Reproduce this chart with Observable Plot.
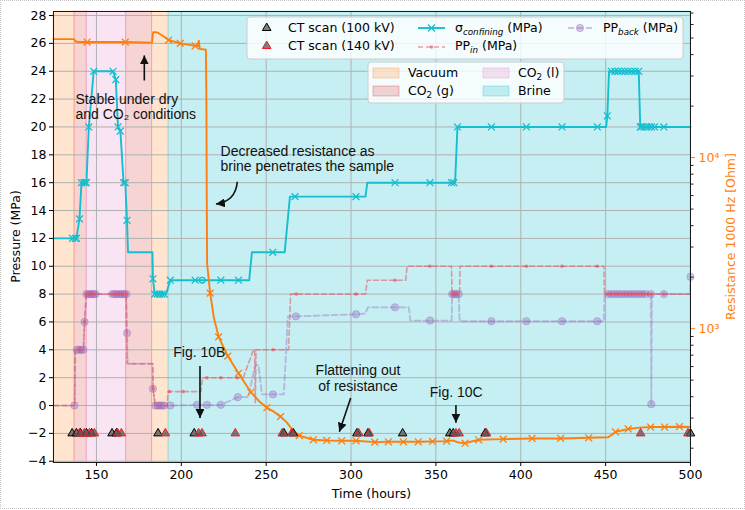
<!DOCTYPE html>
<html>
<head>
<meta charset="utf-8">
<script src="https://cdn.jsdelivr.net/npm/d3@7"></script>
<script src="https://cdn.jsdelivr.net/npm/@observablehq/plot@0.6"></script>
<style>
  html, body { margin: 0; padding: 0; background: #fff; }
  #wrap { position: relative; width: 745px; height: 510px; overflow: hidden; }
  #border { position: absolute; left: 0; top: 0; width: 743px; height: 507px; border: 1px dotted #c4c4c4; pointer-events: none; }
</style>
</head>
<body>
<div id="wrap"><div id="border"></div></div>
<script>
// ---------------- DATA ----------------
const xTicks = [150, 200, 250, 300, 350, 400, 450, 500];
const yTicks = [-4, -2, 0, 2, 4, 6, 8, 10, 12, 14, 16, 18, 20, 22, 24, 26, 28];
const resMajorTicks = [1e3, 1e4];
const resMinorTicks = [200, 300, 400, 500, 600, 700, 800, 900,
  2000, 3000, 4000, 5000, 6000, 7000, 8000, 9000,
  20000, 30000, 40000, 50000, 60000, 70000];

// background phases
const phaseStart = [124.7, 137.1, 144.3, 167.5, 182.8, 192.5];
const phaseEnd   = [137.1, 144.3, 167.5, 182.8, 192.5, 500];
const phaseName  = ["Vacuum", "CO2 (g)", "CO2 (l)", "CO2 (g)", "Vacuum", "Brine"];

// confining pressure (MPa); mark: 1 = x marker, 2 = circle marker
const confTime = [124.7, 135.9, 137.6, 138.2, 140.0, 141.2, 142.6, 143.4, 144.1, 145.5, 148.4, 159.8, 161.4, 162.7, 164.1, 166.0, 167.0, 168.0, 168.6, 183.0,
  183.3, 184.3, 185.8, 187.2, 188.6, 190.0, 191.0, 193.5, 208.2, 212.3, 223.3, 233.7, 240.0, 241.6, 253.9, 260.9, 264.0, 267.0, 302.9, 308.5,
  309.6, 325.9, 346.5, 359.2, 360.6, 361.3, 362.7, 382.7, 403.3, 424.3, 445.1, 450.3, 451.0, 452.0, 453.4, 455.4, 457.4, 459.4, 461.4, 463.4,
  465.4, 467.4, 469.5, 470.4, 471.0, 472.5, 474.0, 475.5, 477.0, 478.8, 484.3, 500.0];
const confMPa = [12, 12, 12, 12, 13.4, 16, 16, 16, 16, 20, 24, 24, 23.4, 20, 19.7, 16, 16, 13.3, 11, 11,
  9.1, 8, 8, 8, 8, 8, 8, 9, 9, 9, 9, 9, 9, 11, 11, 11, 15, 15, 15, 15,
  16, 16, 16, 16, 16, 16, 20, 20, 20, 20, 20, 20, 20.8, 24, 24, 24, 24, 24, 24, 24,
  24, 24, 24, 20, 20, 20, 20, 20, 20, 20, 20, 20];
const confMark = [0, 1, 1, 1, 1, 1, 1, 1, 1, 1, 1, 1, 1, 1, 1, 1, 1, 1, 0, 0,
  1, 1, 1, 1, 1, 1, 0, 1, 1, 2, 1, 1, 0, 0, 1, 0, 0, 1, 1, 0,
  0, 1, 1, 1, 1, 0, 1, 1, 1, 1, 1, 0, 1, 0, 1, 1, 1, 1, 1, 1,
  1, 1, 1, 1, 1, 1, 1, 1, 1, 1, 1, 0];

// inlet pore pressure (MPa)
const inTime = [124.7, 137.3, 137.6, 140.0, 142.5, 143.0, 144.0, 145.5, 147.0, 149.0, 159.0, 161.0, 163.0, 165.0, 167.5, 168.0, 183.2, 183.4, 184.5, 191.7,
  192.2, 193.0, 201.0, 211.5, 212.5, 215.1, 223.3, 232.9, 236.5, 242.5, 243.2, 243.6, 244.0, 254.1, 263.2, 264.4, 267.7, 302.9, 308.5, 309.6,
  325.9, 332.2, 333.0, 346.5, 359.2, 359.5, 361.0, 362.5, 364.0, 364.2, 382.7, 403.3, 424.3, 445.0, 449.0, 449.3, 451.0, 453.0, 455.0, 457.0,
  459.0, 461.0, 463.0, 465.0, 467.0, 469.0, 471.0, 473.0, 475.0, 477.0, 484.3, 500.0];
const inMPa = [0, 0, 4, 4, 4, 6, 8, 8, 8, 8, 8, 8, 8, 8, 8, 3, 3, 1.2, 0, 0,
  1, 1, 1, 1, 2, 2, 2, 2, 2, 4, 4, 0.2, 4, 4, 4, 8, 8, 8, 8, 9,
  9, 9, 10, 10, 10, 8, 8, 8, 8, 10, 10, 10, 10, 10, 10, 8, 8, 8, 8, 8,
  8, 8, 8, 8, 8, 8, 8, 8, 8, 8, 8, 8];
const inMark = [0, 0, 0, 1, 0, 1, 1, 1, 1, 1, 1, 1, 1, 1, 1, 0, 0, 1, 0, 0,
  0, 1, 1, 0, 0, 1, 1, 1, 0, 0, 0, 0, 0, 1, 0, 0, 1, 1, 0, 0,
  1, 0, 0, 1, 0, 1, 1, 1, 0, 0, 1, 1, 1, 1, 0, 0, 1, 1, 1, 1,
  1, 1, 1, 1, 1, 1, 1, 1, 1, 1, 1, 0];

// back pore pressure (MPa)
const backTime = [124.7, 137.0, 137.4, 138.4, 139.8, 141.1, 142.3, 143.0, 144.1, 145.2, 146.3, 147.4, 148.5, 149.4, 159.2, 160.5, 161.8, 163.0, 164.2, 165.4,
  166.6, 167.6, 168.0, 168.4, 183.0, 183.3, 184.7, 186.0, 187.3, 188.6, 190.0, 193.5, 209.3, 215.1, 223.3, 233.3, 239.5, 243.5, 245.5, 247.5,
  254.0, 260.4, 262.8, 267.5, 302.9, 308.5, 309.8, 325.9, 334.0, 335.0, 346.5, 359.3, 359.6, 360.8, 362.0, 363.4, 364.0, 382.7, 403.3, 424.3,
  445.0, 449.0, 449.3, 451.5, 453.5, 455.5, 457.5, 459.5, 461.5, 463.5, 465.5, 467.5, 469.5, 471.5, 473.5, 476.6, 476.9, 477.3, 484.3, 499.6,
  500.0];
const backMPa = [0, 0, 4, 4, 4, 4, 4, 6, 8, 8, 8, 8, 8, 8, 8, 8, 8, 8, 8, 8,
  8, 8, 5.2, 3, 3, 1.2, 0, 0, 0, 0, 0, 0, 0.05, 0.05, 0.05, 0.6, 0.6, 2.9, 2.9, 0.8,
  0.8, 0.8, 6.4, 6.4, 6.55, 6.6, 7.05, 7.05, 7.05, 6.1, 6.1, 6.1, 8, 8, 8, 8, 6.05, 6.05, 6.05, 6.05,
  6.05, 6.05, 8, 8, 8, 8, 8, 8, 8, 8, 8, 8, 8, 8, 8, 8, 0.1, 8, 8, 8,
  9.25];
const backMark = [0, 1, 0, 1, 1, 1, 1, 1, 1, 1, 1, 1, 1, 1, 1, 1, 1, 1, 1, 1,
  1, 1, 1, 0, 0, 1, 1, 1, 1, 1, 1, 1, 1, 1, 1, 1, 0, 0, 0, 0,
  1, 0, 0, 1, 1, 0, 0, 1, 0, 0, 1, 0, 1, 1, 1, 1, 0, 1, 1, 1,
  1, 0, 0, 1, 1, 1, 1, 1, 1, 1, 1, 1, 1, 1, 1, 1, 1, 0, 1, 0,
  1];

// resistance at 1000 Hz (Ohm)
const resTime = [124.7, 136.8, 137.6, 139.0, 144.5, 167.0, 182.7, 183.4, 185.0, 186.5, 189.0, 192.5, 199.4, 208.2, 209.8, 210.3, 210.9, 214.5, 214.8, 215.0,
  215.2, 217.0, 219.2, 222.0, 227.4, 233.7, 241.0, 245.5, 250.4, 254.5, 258.5, 262.0, 265.5, 269.5, 277.8, 285.7, 294.5, 302.9, 314.0, 322.0,
  330.8, 339.6, 348.0, 356.3, 360.0, 363.0, 367.2, 375.2, 389.6, 406.6, 423.5, 440.0, 451.5, 455.8, 463.3, 470.0, 476.5, 484.7, 493.5, 500.0];
const resOhm = [49300, 49300, 47900, 47400, 47400, 47400, 46960, 54070, 54070, 53560, 51580, 48700, 46530, 44980, 44980, 48300, 43150, 42760, 20780, 5594,
  2404, 1613, 1158, 895, 691, 548, 425, 379, 345, 327, 306, 284, 256, 237, 224, 222, 221, 221, 217, 218,
  218, 218, 219, 220, 222, 216, 214, 224, 226, 228, 228, 230, 232, 249, 259, 264, 266, 266, 267, 266];
const resMark = [0, 0, 0, 0, 1, 1, 0, 0, 0, 0, 0, 1, 1, 1, 0, 0, 0, 0, 0, 0,
  0, 1, 0, 1, 1, 1, 1, 0, 1, 0, 1, 0, 0, 1, 1, 1, 1, 1, 1, 1,
  1, 1, 1, 1, 0, 0, 1, 1, 1, 1, 1, 1, 0, 1, 1, 0, 1, 1, 1, 0];

// CT scans (drawn at -2 MPa)
const ctLevel = -2;
const ct100Time = [135.7, 138.2, 140.6, 144.1, 147.1, 159.2, 161.8, 186.3, 207.6, 260.5, 266.0, 303.5, 310.0, 330.4, 358.2, 360.2, 379.0, 500.0];
const ct140Time = [140.0, 142.9, 145.9, 148.8, 162.5, 164.7, 190.6, 210.2, 212.2, 231.8, 259.5, 265.0, 304.5, 310.7, 361.8, 363.7, 379.8, 470.6, 498.5];

// ---------------- STYLE ----------------
const phaseColor = {"Vacuum": "#ff7f0e", "CO2 (g)": "#d62728", "CO2 (l)": "#e377c2", "Brine": "#17becf"};
const phaseAlpha = {"Vacuum": 0.2, "CO2 (g)": 0.2, "CO2 (l)": 0.2, "Brine": 0.25};
const C_CONF = "#17becf", C_RES = "#ff7f0e", C_IN = "#e8505b", C_BACK = "#9467bd";
const rgba = (c, a) => { const k = d3.color(c); k.opacity = a; return k.formatRgb(); };

// secondary (log) axis mapping onto the pressure axis
const R_REF = 1e4, P_AT_REF = 17.8, P_PER_DECADE = 12.28;
const resY = ohm => P_AT_REF + P_PER_DECADE * Math.log10(ohm / R_REF);
const supDigits = {"0": "⁰", "1": "¹", "2": "²", "3": "³", "4": "⁴", "5": "⁵", "6": "⁶"};

const zip = (t, v, m) => t.map((x, i) => ({t: x, v: v[i], m: m[i]}));
const confRows = zip(confTime, confMPa, confMark);
const inRows = zip(inTime, inMPa, inMark);
const backRows = zip(backTime, backMPa, backMark);
const resRows = zip(resTime, resOhm, resMark);
const phaseRows = phaseStart.map((s, i) => ({start: s, end: phaseEnd[i], phase: phaseName[i]}));

const notesStart = [
  {t: 137.6, p: 21.95, s: "Stable under dry"},
  {t: 137.6, p: 20.89, s: "and CO₂ conditions"},
  {t: 223.1, p: 18.24, s: "Decreased resistance as"},
  {t: 223.1, p: 17.16, s: "brine penetrates the sample"}
];
const notesMiddle = [
  {t: 210.6, p: 3.83, s: "Fig. 10B"},
  {t: 304.1, p: 2.48, s: "Flattening out"},
  {t: 304.1, p: 1.40, s: "of resistance"},
  {t: 362.0, p: 0.93, s: "Fig. 10C"}
];
const arrows = [
  {t1: 178.5, p1: 23.3, t2: 178.5, p2: 25.1, bend: 0},
  {t1: 233.3, p1: 16.03, t2: 220.7, p2: 14.43, bend: 0.4},
  {t1: 211.3, p1: 2.8, t2: 211.3, p2: -0.93, bend: 0},
  {t1: 300.1, p1: 0.5, t2: 293.4, p2: -1.92, bend: 0},
  {t1: 362.1, p1: 0.0, t2: 362.1, p2: -1.27, bend: 0}
];

const annFont = "Liberation Sans, Arial, sans-serif";

const chart = Plot.plot({
  width: 745, height: 510,
  marginLeft: 53, marginRight: 55, marginTop: 11, marginBottom: 48,
  x: {domain: [124.7, 500]},
  y: {domain: [-4.09, 28.29]},
  style: {fontFamily: "DejaVu Sans, sans-serif", fontSize: "12.5px", color: "#000", background: "transparent", overflow: "visible"},
  marks: [
    Plot.rect(phaseRows, {x1: "start", x2: "end",
      fill: d => rgba(phaseColor[d.phase], phaseAlpha[d.phase]),
      stroke: d => rgba(phaseColor[d.phase], 0.22), strokeWidth: 1}),
    Plot.gridX({ticks: xTicks, stroke: "#b0b0b0", strokeOpacity: 1, strokeWidth: 1}),
    Plot.gridY({ticks: yTicks, stroke: "#b0b0b0", strokeOpacity: 1, strokeWidth: 1}),

    Plot.line(backRows, {x: "t", y: "v", stroke: C_BACK, strokeOpacity: 0.4, strokeWidth: 1.8, strokeDasharray: "6,3"}),
    Plot.dot(backRows.filter(d => d.m), {x: "t", y: "v", r: 3.7, fill: C_BACK, fillOpacity: 0.35, stroke: C_BACK, strokeOpacity: 0.35, strokeWidth: 1}),
    Plot.line(inRows, {x: "t", y: "v", stroke: C_IN, strokeOpacity: 0.55, strokeWidth: 1.6, strokeDasharray: "5,3"}),
    Plot.dot(inRows.filter(d => d.m), {x: "t", y: "v", r: 1.8, fill: C_IN, fillOpacity: 0.65}),

    Plot.line(confRows, {x: "t", y: "v", stroke: C_CONF, strokeWidth: 1.9}),
    Plot.dot(confRows.filter(d => d.m === 1), {x: "t", y: "v", symbol: "times", r: 3.2, stroke: C_CONF, strokeWidth: 1.3}),
    Plot.dot(confRows.filter(d => d.m === 2), {x: "t", y: "v", symbol: "circle", r: 2.8, stroke: C_CONF, fill: "none", strokeWidth: 1.3}),

    Plot.line(resRows, {x: "t", y: d => resY(d.v), stroke: C_RES, strokeWidth: 1.9}),
    Plot.dot(resRows.filter(d => d.m), {x: "t", y: d => resY(d.v), symbol: "times", r: 3.2, stroke: C_RES, strokeWidth: 1.3}),

    Plot.dot(ct100Time, {x: d => d, y: () => ctLevel, symbol: "triangle", r: 3.2, fill: "#555", fillOpacity: 0.75, stroke: "#000", strokeWidth: 1}),
    Plot.dot(ct140Time, {x: d => d, y: () => ctLevel, symbol: "triangle", r: 3.2, fill: "#555", fillOpacity: 0.75, stroke: "#ee1c25", strokeWidth: 1}),

    Plot.frame({stroke: "#1a1a1a", strokeWidth: 1}),
    Plot.axisX({ticks: xTicks, tickSize: 4, tickPadding: 4, label: null}),
    Plot.axisY({ticks: yTicks, tickSize: 4, tickPadding: 3, label: null}),
    Plot.axisY({anchor: "right", ticks: resMinorTicks.map(resY), tickSize: 2.5, tickFormat: () => "", label: null, color: "#222"}),
    Plot.axisY({anchor: "right", ticks: resMajorTicks.map(resY), tickSize: 4, tickPadding: 4, label: null, color: C_RES,
      tickFormat: d => "10" + supDigits[String(Math.round(4 + (d - P_AT_REF) / P_PER_DECADE))]}),

    Plot.text(notesStart, {x: "t", y: "p", text: "s", textAnchor: "start", fontSize: 14, fontFamily: annFont, fill: "#111"}),
    Plot.text(notesMiddle, {x: "t", y: "p", text: "s", textAnchor: "middle", fontSize: 14, fontFamily: annFont, fill: "#111"})
  ]
});

document.getElementById("wrap").insertBefore(chart, document.getElementById("border"));

// ------------- overlays drawn with the plot's scales -------------
const svg = d3.select(chart);
const xs = chart.scale("x"), ys = chart.scale("y");
const X = v => xs.apply(v), Y = v => ys.apply(v);

const defs = svg.append("defs");
defs.append("marker").attr("id", "ahead").attr("viewBox", "0 0 10 10")
  .attr("refX", 10).attr("refY", 5).attr("markerUnits", "userSpaceOnUse")
  .attr("markerWidth", 9).attr("markerHeight", 9).attr("orient", "auto")
  .append("path").attr("d", "M0,0 L10,5 L0,10 Z").attr("fill", "#111");

const ag = svg.append("g");
arrows.forEach(a => {
  const x1 = X(a.t1), y1 = Y(a.p1), x2 = X(a.t2), y2 = Y(a.p2);
  let d;
  if (a.bend) {
    const mx = (x1 + x2) / 2, my = (y1 + y2) / 2;
    const cx = mx + a.bend * (y2 - y1), cy = my - a.bend * (x2 - x1);
    d = `M${x1},${y1} Q${cx},${cy} ${x2},${y2}`;
  } else d = `M${x1},${y1} L${x2},${y2}`;
  ag.append("path").attr("d", d).attr("fill", "none").attr("stroke", "#111")
    .attr("stroke-width", 1.6).attr("marker-end", "url(#ahead)");
});

// axis titles
const tg = svg.append("g").attr("font-family", "DejaVu Sans, sans-serif").attr("font-size", 12.5);
tg.append("text").attr("transform", "translate(15,236.5) rotate(-90)").attr("text-anchor", "middle")
  .attr("dominant-baseline", "central").attr("fill", "#000").text("Pressure (MPa)");
tg.append("text").attr("x", 371.5).attr("y", 497.5).attr("text-anchor", "middle").attr("fill", "#000").text("Time (hours)");
tg.append("text").attr("transform", "translate(730,236.5) rotate(-90)").attr("text-anchor", "middle")
  .attr("dominant-baseline", "central").attr("fill", C_RES).text("Resistance 1000 Hz [Ohm]");

// legends
const lg = svg.append("g").attr("font-family", "DejaVu Sans, sans-serif").attr("font-size", 12.5)
  .attr("fill", "#000").attr("text-anchor", "start");
lg.append("rect").attr("x", 247).attr("y", 17).attr("width", 436).attr("height", 42).attr("rx", 3)
  .attr("fill", "white").attr("fill-opacity", 0.8).attr("stroke", "#cccccc");

const triPath = d3.symbol(d3.symbolTriangle, Math.PI * 3.2 * 3.2)();
const timesPath = d3.symbol(d3.symbolTimes, Math.PI * 3.2 * 3.2)();
lg.append("path").attr("d", triPath).attr("transform", "translate(266.7,28)")
  .attr("fill", "#555").attr("fill-opacity", 0.75).attr("stroke", "#000");
lg.append("path").attr("d", triPath).attr("transform", "translate(266.7,46)")
  .attr("fill", "#555").attr("fill-opacity", 0.75).attr("stroke", "#ee1c25");
lg.append("text").attr("x", 288).attr("y", 32.3).attr("text-anchor", "start").text("CT scan (100 kV)");
lg.append("text").attr("x", 288).attr("y", 50.3).attr("text-anchor", "start").text("CT scan (140 kV)");

lg.append("line").attr("x1", 418).attr("x2", 445).attr("y1", 28).attr("y2", 28).attr("stroke", C_CONF).attr("stroke-width", 1.9);
lg.append("path").attr("d", timesPath).attr("transform", "translate(431.5,28)").attr("fill", "none").attr("stroke", C_CONF).attr("stroke-width", 1.3);
const t1 = lg.append("text").attr("x", 455).attr("y", 32.3).attr("text-anchor", "start");
t1.append("tspan").text("σ");
t1.append("tspan").attr("font-size", 8.75).attr("font-style", "italic").attr("dy", 3).text("confining");
t1.append("tspan").attr("dy", -3).text(" (MPa)");

lg.append("line").attr("x1", 418).attr("x2", 445).attr("y1", 47).attr("y2", 47).attr("stroke", C_IN)
  .attr("stroke-opacity", 0.55).attr("stroke-width", 1.6).attr("stroke-dasharray", "5,3");
lg.append("circle").attr("cx", 431.5).attr("cy", 47).attr("r", 1.8).attr("fill", C_IN).attr("fill-opacity", 0.65);
const t2 = lg.append("text").attr("x", 455).attr("y", 50.3).attr("text-anchor", "start");
t2.append("tspan").text("PP");
t2.append("tspan").attr("font-size", 8.75).attr("font-style", "italic").attr("dy", 3).text("in");
t2.append("tspan").attr("dy", -3).text(" (MPa)");

lg.append("line").attr("x1", 568).attr("x2", 592).attr("y1", 28).attr("y2", 28).attr("stroke", C_BACK)
  .attr("stroke-opacity", 0.4).attr("stroke-width", 1.8).attr("stroke-dasharray", "6,3");
lg.append("circle").attr("cx", 580).attr("cy", 28).attr("r", 3.7).attr("fill", C_BACK).attr("fill-opacity", 0.35)
  .attr("stroke", C_BACK).attr("stroke-opacity", 0.35);
const t3 = lg.append("text").attr("x", 603).attr("y", 32.3).attr("text-anchor", "start");
t3.append("tspan").text("PP");
t3.append("tspan").attr("font-size", 8.75).attr("font-style", "italic").attr("dy", 3).text("back");
t3.append("tspan").attr("dy", -3).text(" (MPa)");

// phase legend
lg.append("rect").attr("x", 368).attr("y", 62).attr("width", 196).attr("height", 41).attr("rx", 3)
  .attr("fill", "white").attr("fill-opacity", 0.8).attr("stroke", "#cccccc");
const legendPhases = ["Vacuum", "CO2 (g)", "CO2 (l)", "Brine"];
const legendPos = [[373, 68], [373, 86], [483, 68], [483, 86]];
legendPhases.forEach((ph, i) => {
  const [px, py] = legendPos[i];
  lg.append("rect").attr("x", px).attr("y", py).attr("width", 26).attr("height", 10)
    .attr("fill", rgba(phaseColor[ph], phaseAlpha[ph])).attr("stroke", rgba(phaseColor[ph], 0.3));
  const tx = lg.append("text").attr("x", px + 35).attr("y", py + 9).attr("text-anchor", "start");
  if (ph.startsWith("CO2")) {
    tx.append("tspan").text("CO");
    tx.append("tspan").attr("font-size", 8.75).attr("dy", 3).text("2");
    tx.append("tspan").attr("dy", -3).text(ph.slice(3));
  } else tx.text(ph);
});
</script>
</body>
</html>
